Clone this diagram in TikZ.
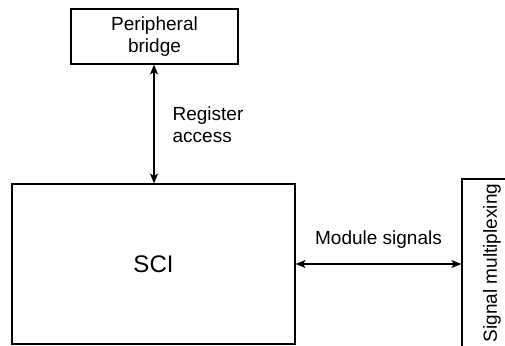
\documentclass[tikz,border=0pt]{standalone}
\usepackage{fontspec}
\setmainfont{Liberation Sans}
\usetikzlibrary{arrows.meta}
\begin{document}
\begin{tikzpicture}[x=1pt,y=-1pt,
  box/.style={draw, line width=1.1pt, inner sep=0pt, font=\fontsize{19}{22}\selectfont, align=center},
  link/.style={line width=1.3pt, {Stealth[length=10pt,width=8pt,inset=2.5pt]}-{Stealth[length=10pt,width=8pt,inset=2.5pt]}},
  lbl/.style={inner sep=0pt, font=\fontsize{19}{22}\selectfont, align=left}]
\useasboundingbox (0,0) rectangle (505,345);
\node[box, minimum width=167pt, minimum height=55pt] (pb) at (154.5,36.5) {Peripheral\\bridge};
\node[box, minimum width=283pt, minimum height=160pt, font=\fontsize{24}{28}\selectfont] (sci) at (153.5,264) {SCI};
\node[box, rotate=90, minimum width=168pt, minimum height=60pt] (mux) at (492,263) {Signal multiplexing};
\draw[link] (pb.south -| 154,0) -- (sci.north -| 154,0)
  node[lbl, midway, right, xshift=18pt, yshift=-1pt] {Register\\access};
\draw[link] (sci.east |- 0,264) -- (mux.north |- 0,264)
  node[lbl, midway, above, yshift=15pt] {Module signals};
\end{tikzpicture}
\end{document}
